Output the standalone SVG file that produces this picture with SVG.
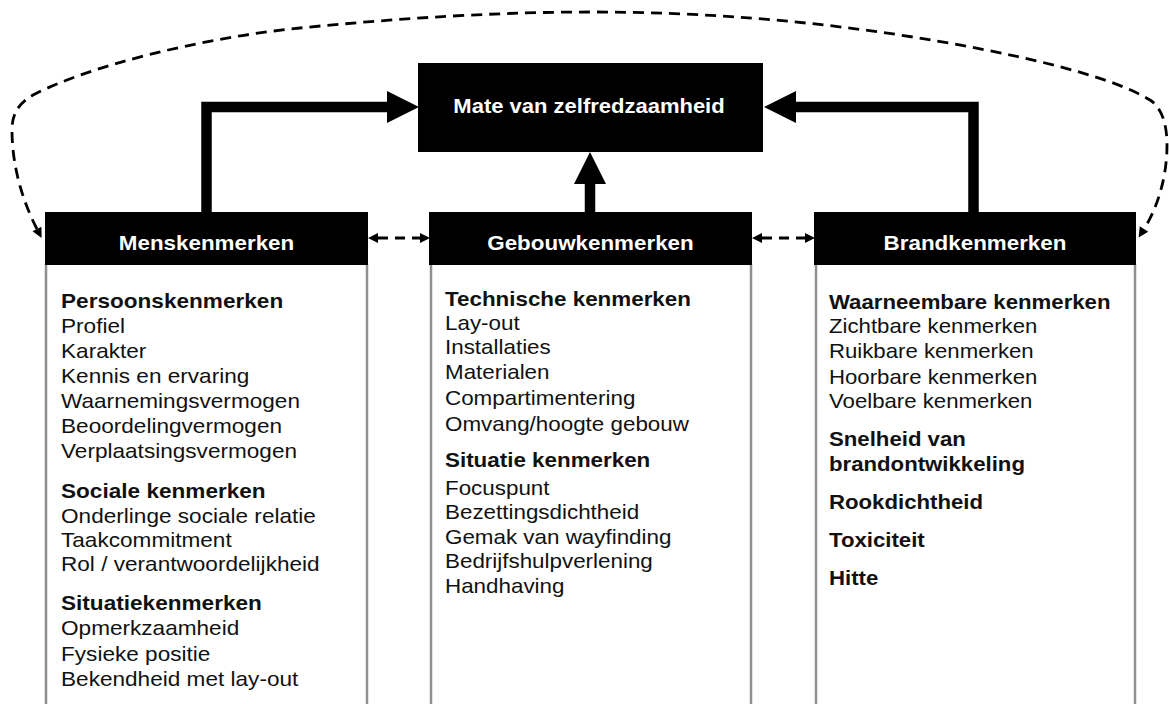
<svg xmlns="http://www.w3.org/2000/svg" width="1169" height="704" viewBox="0 0 1169 704">
<style>
.hdr{fill:#000}
.htxt{font-family:"Liberation Sans",Arial,sans-serif;font-size:20px;font-weight:bold;fill:#fff;text-anchor:middle}
.body{font-family:"Liberation Sans",Arial,sans-serif;font-size:20px;fill:#111}
.b{font-weight:bold}
.side{stroke:#8f8f8f;stroke-width:2.5;fill:none}
.thick{stroke:#000;stroke-width:10.5;fill:none;stroke-linejoin:miter}
.dash{stroke:#000;stroke-width:2.8;fill:none;stroke-dasharray:11 7}
.sdash{stroke:#000;stroke-width:2.8;fill:none;stroke-dasharray:10 7}
</style>
<defs>
<marker id="bigHead" markerUnits="userSpaceOnUse" markerWidth="33" markerHeight="33" refX="0" refY="16" orient="auto" overflow="visible">
<path d="M0,0 L32,16 L0,32 z" fill="#000"/>
</marker>
<marker id="smallHead" markerUnits="userSpaceOnUse" markerWidth="11" markerHeight="11" refX="0" refY="5" orient="auto-start-reverse" overflow="visible">
<path d="M0,0 L10,5 L0,10 z" fill="#000"/>
</marker>
</defs>

<g id="connectors">
<path class="thick" d="M206.5,212 V107 H387" marker-end="url(#bigHead)"/>
<path class="thick" d="M973.5,212 V107 H796" marker-end="url(#bigHead)"/>
<path class="thick" d="M590,212 V184" marker-end="url(#bigHead)"/>
<path class="sdash" d="M378,238 H420" marker-start="url(#smallHead)" marker-end="url(#smallHead)"/>
<path class="sdash" d="M762,238 H805" marker-start="url(#smallHead)" marker-end="url(#smallHead)"/>
<path class="dash" d="M37,229 C22,200 12,165 12,130 C12,112 20,102 35,94 C90,66 200,38 300,28 C400,18 500,12 590,12 C700,12 800,20 900,35 C1010,52 1110,75 1150,100 C1162,107.5 1167,125 1167,145 C1167,180 1156,210 1144,229" marker-start="url(#smallHead)" marker-end="url(#smallHead)"/>
</g>

<g id="node-zelfredzaamheid">
<rect x="418" y="63" width="345" height="89" class="hdr"/>
<g transform="translate(589 0) scale(1.1 1)"><text class="htxt" x="0" y="113">Mate van zelfredzaamheid</text></g>
</g>

<g id="node-menskenmerken">
<line class="side" x1="46" y1="264" x2="46" y2="704"/>
<line class="side" x1="367" y1="264" x2="367" y2="704"/>
<rect x="45" y="212" width="323" height="53" class="hdr"/>
<g transform="translate(206.5 0) scale(1.12 1)"><text class="htxt" x="0" y="250">Menskenmerken</text></g>
<g transform="translate(61 0) scale(1.13 1)">
<text class="body b" x="0" y="308">Persoonskenmerken</text>
<text class="body" x="0" y="333">Profiel</text>
<text class="body" x="0" y="358">Karakter</text>
<text class="body" x="0" y="383">Kennis en ervaring</text>
<text class="body" x="0" y="408">Waarnemingsvermogen</text>
<text class="body" x="0" y="433">Beoordelingvermogen</text>
<text class="body" x="0" y="458">Verplaatsingsvermogen</text>
<text class="body b" x="0" y="498">Sociale kenmerken</text>
<text class="body" x="0" y="523">Onderlinge sociale relatie</text>
<text class="body" x="0" y="547">Taakcommitment</text>
<text class="body" x="0" y="571">Rol / verantwoordelijkheid</text>
<text class="body b" x="0" y="610">Situatiekenmerken</text>
<text class="body" x="0" y="635">Opmerkzaamheid</text>
<text class="body" x="0" y="661">Fysieke positie</text>
<text class="body" x="0" y="686">Bekendheid met lay-out</text>
</g>
</g>

<g id="node-gebouwkenmerken">
<line class="side" x1="431" y1="264" x2="431" y2="704"/>
<line class="side" x1="751" y1="264" x2="751" y2="704"/>
<rect x="429" y="212" width="323" height="53" class="hdr"/>
<g transform="translate(590.5 0) scale(1.12 1)"><text class="htxt" x="0" y="250">Gebouwkenmerken</text></g>
<g transform="translate(445 0) scale(1.12 1)">
<text class="body b" x="0" y="306">Technische kenmerken</text>
<text class="body" x="0" y="330">Lay-out</text>
<text class="body" x="0" y="354">Installaties</text>
<text class="body" x="0" y="379">Materialen</text>
<text class="body" x="0" y="405">Compartimentering</text>
<text class="body" x="0" y="431">Omvang/hoogte gebouw</text>
<text class="body b" x="0" y="467">Situatie kenmerken</text>
<text class="body" x="0" y="495">Focuspunt</text>
<text class="body" x="0" y="519">Bezettingsdichtheid</text>
<text class="body" x="0" y="544">Gemak van wayfinding</text>
<text class="body" x="0" y="568">Bedrijfshulpverlening</text>
<text class="body" x="0" y="593">Handhaving</text>
</g>
</g>

<g id="node-brandkenmerken">
<line class="side" x1="816" y1="264" x2="816" y2="704"/>
<line class="side" x1="1135" y1="264" x2="1135" y2="704"/>
<rect x="814" y="212" width="322" height="53" class="hdr"/>
<g transform="translate(975 0) scale(1.12 1)"><text class="htxt" x="0" y="250">Brandkenmerken</text></g>
<g transform="translate(829 0) scale(1.11 1)">
<text class="body b" x="0" y="309">Waarneembare kenmerken</text>
<text class="body" x="0" y="333">Zichtbare kenmerken</text>
<text class="body" x="0" y="358">Ruikbare kenmerken</text>
<text class="body" x="0" y="384">Hoorbare kenmerken</text>
<text class="body" x="0" y="408">Voelbare kenmerken</text>
<text class="body b" x="0" y="446">Snelheid van</text>
<text class="body b" x="0" y="471">brandontwikkeling</text>
<text class="body b" x="0" y="509">Rookdichtheid</text>
<text class="body b" x="0" y="547">Toxiciteit</text>
<text class="body b" x="0" y="585">Hitte</text>
</g>
</g>
</svg>
